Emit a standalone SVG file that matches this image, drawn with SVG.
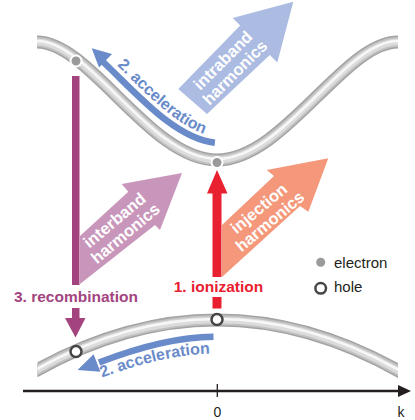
<svg xmlns="http://www.w3.org/2000/svg" xmlns:xlink="http://www.w3.org/1999/xlink" width="415" height="420" viewBox="0 0 415 420">
<style>
text{font-family:"Liberation Sans",Arial,sans-serif}
.b{font-weight:bold;font-size:15.5px}
.acc{font-weight:bold;font-size:16px;fill:#6a8bc9}
.w{fill:#fff;font-weight:bold;font-size:16.5px;text-anchor:middle}
.t1{fill:none;stroke:#a3a3a3;stroke-width:13}
.t2{fill:none;stroke:#c2c2c2;stroke-width:10}
.t3{fill:none;stroke:#dcdcdc;stroke-width:6.5}
.t4{fill:none;stroke:#f7f7f7;stroke-width:2.5}
.el{fill:#9a9a9a;stroke:#fff;stroke-width:2}
.ho{fill:#fff;stroke:#454545;stroke-width:2.5}
.blue{fill:none;stroke:#6a8bc9;stroke-width:6.5}
.lg{font-size:15px;fill:#231f20}
</style>
<defs>
<path id="cb" d="M37,42 C90,42 150,160 217,160 S344,42 398,42"/>
<path id="vb" d="M17,381.7 Q117,320 217,320 T417,381.7"/>
<clipPath id="clip"><rect x="37.5" y="0" width="360.5" height="420"/></clipPath>
<path id="tp1" d="M107.7,56.5 C142.6,89.5 180,133.5 219.9,137.7"/>
<path id="tp2" d="M97,379.5 Q163,354 215,353.5"/>
</defs>

<g id="intraband-arrow">
<polygon points="293.3,1.7 277.3,62.6 269.8,55.1 207,114 178.3,89 240.2,25.5 232.7,18" fill="#abbbe2"/>
<g transform="translate(229,66.5) rotate(-45)">
<text class="w" x="0" y="-3">intraband</text>
<text class="w" x="0" y="14">harmonics</text>
</g>
</g>

<g id="interband-arrow">
<polygon points="182,173 160,230 155,225 80,284 80,236 128.3,191.7 121.7,184" fill="#c996bb"/>
<g transform="translate(120,227) rotate(-40)">
<text class="w" x="0" y="-3">interband</text>
<text class="w" x="0" y="14">harmonics</text>
</g>
</g>

<g id="injection-arrow">
<polygon points="328.3,158.3 308.3,211.7 300,206 222,277 222,225 274,176 266.7,170" fill="#f4977a"/>
<g transform="translate(264.5,215) rotate(-40)">
<text class="w" x="0" y="-3">injection</text>
<text class="w" x="0" y="14">harmonics</text>
</g>
</g>

<g id="conduction-band">
<use xlink:href="#cb" class="t1"/>
<use xlink:href="#cb" class="t2"/>
<use xlink:href="#cb" class="t3"/>
<use xlink:href="#cb" class="t4" transform="translate(0,-1)"/>
</g>

<g id="valence-band" clip-path="url(#clip)">
<use xlink:href="#vb" class="t1"/>
<use xlink:href="#vb" class="t2"/>
<use xlink:href="#vb" class="t3"/>
<use xlink:href="#vb" class="t4" transform="translate(0,-1)"/>
</g>

<g id="connectors">
<g id="recombination">
<rect x="72" y="76" width="7.5" height="209" fill="#a3447f"/>
<rect x="72" y="308" width="7.5" height="11" fill="#a3447f"/>
<polygon points="65,318 85.5,318 75.5,337.5" fill="#a3447f"/>
</g>
<g id="ionization">
<rect x="212.5" y="192" width="9" height="85" fill="#e8202f"/>
<rect x="212.5" y="297" width="9" height="11.5" fill="#e8202f"/>
<polygon points="207,193.5 227.5,193.5 217,170" fill="#e8202f"/>
</g>
<g id="acceleration-upper">
<path class="blue" d="M214.9,142.7 C175,138.5 137.6,94.5 102.7,61.5"/>
<polygon points="91.7,48.3 112,54 99,67.5" fill="#6a8bc9"/>
</g>
<g id="acceleration-lower">
<path class="blue" d="M213.5,336.7 Q165,337 99,362.5"/>
<polygon points="77.5,370 100.4,371.8 93.6,354.2" fill="#6a8bc9"/>
</g>
</g>

<g id="electron-top-left"><circle cx="76" cy="61" r="5.5" class="el"/></g>
<g id="electron-bottom"><circle cx="217" cy="162.5" r="5.5" class="el"/></g>
<g id="hole-top"><circle cx="217" cy="319.5" r="5.5" class="ho"/></g>
<g id="hole-left"><circle cx="76" cy="351.5" r="5.5" class="ho"/></g>

<g id="labels">
<text class="acc"><textPath xlink:href="#tp1" startOffset="13">2. acceleration</textPath></text>
<text class="acc"><textPath xlink:href="#tp2" startOffset="5">2. acceleration</textPath></text>
<text class="b" fill="#e8202f" x="218.5" y="292" text-anchor="middle">1. ionization</text>
<text class="b" fill="#a3447f" x="76" y="302" text-anchor="middle">3. recombination</text>
</g>

<g id="legend">
<circle cx="320.7" cy="262.3" r="4.5" fill="#9a9a9a"/>
<text class="lg" x="334" y="268">electron</text>
<circle cx="320.7" cy="288.3" r="5.3" fill="#fff" stroke="#454545" stroke-width="2.5"/>
<text class="lg" x="334" y="292">hole</text>
</g>

<g id="axis">
<line x1="23" y1="391" x2="400" y2="391" stroke="#231f20" stroke-width="2.5"/>
<polygon points="411,391 398,385 398,397" fill="#231f20"/>
<line x1="217.3" y1="384" x2="217.3" y2="397" stroke="#231f20" stroke-width="1.3"/>
<text x="217.3" y="416.5" font-size="14" text-anchor="middle" fill="#231f20">0</text>
<text x="401" y="416.5" font-size="14" text-anchor="middle" fill="#231f20">k</text>
</g>
</svg>
